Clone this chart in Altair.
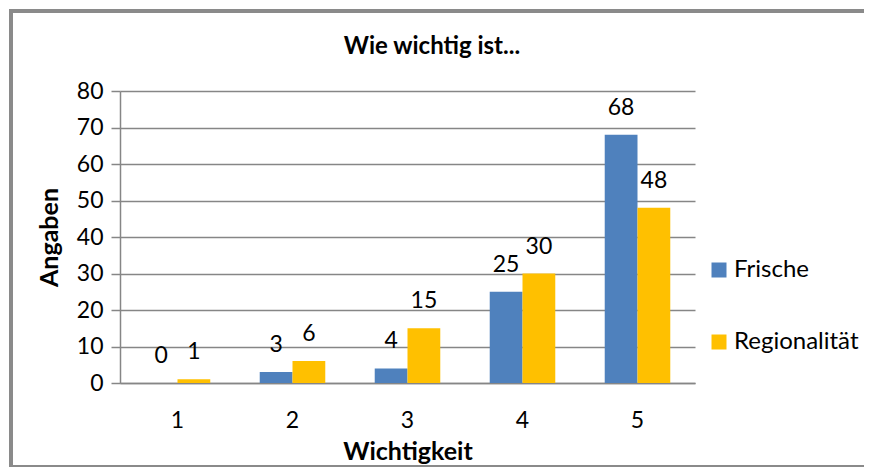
import altair as alt
import pandas as pd

categories = ["1", "2", "3", "4", "5"]
frische = [0, 3, 4, 25, 68]
regionalitaet = [1, 6, 15, 30, 48]
series = ["Frische", "Regionalität"]
colors = ["#4F81BD", "#FFC000"]
title_text = ["Wie wichtig ist..."]

rows = []
for c, f, r in zip(categories, frische, regionalitaet):
    rows.append({"Wichtigkeit": c, "Serie": series[0], "Angaben": f})
    rows.append({"Wichtigkeit": c, "Serie": series[1], "Angaben": r})
df = pd.DataFrame(rows)

FONT = "Lato"
W, H = 575, 292

x = alt.X("Wichtigkeit:N", sort=categories,
          scale=alt.Scale(paddingInner=0.43, paddingOuter=0.215),
          axis=alt.Axis(title="Wichtigkeit", labelAngle=0, ticks=False,
                        labelPadding=26, titlePadding=7, domainColor="#868686",
                        domainWidth=1.5))
y = alt.Y("Angaben:Q", scale=alt.Scale(domain=[0, 80]),
          axis=alt.Axis(title="Angaben", values=list(range(0, 81, 10)),
                        tickSize=9, tickColor="#868686", tickWidth=1.5,
                        gridColor="#868686", gridWidth=1.5,
                        domainColor="#868686", domainWidth=1.5,
                        labelPadding=8, titlePadding=14))
xo = alt.XOffset("Serie:N", sort=series)

base = alt.Chart(df)

bars = base.mark_bar().encode(
    x=x, y=y, xOffset=xo,
    color=alt.Color("Serie:N", sort=series,
                    scale=alt.Scale(domain=series, range=colors),
                    legend=alt.Legend(title=None, orient="none", legendX=587, legendY=167,
                                      symbolType="square", symbolSize=225,
                                      symbolStrokeWidth=0, labelFontSize=24,
                                      labelFont=FONT, labelColor="#000000",
                                      rowPadding=48, labelOffset=3,
                                      labelLimit=400)),
)

labels = base.mark_text(dy=-27, fontSize=23, font=FONT, color="#000000").encode(
    x=x, y=y, xOffset=xo, text="Angaben:Q",
)

frame = alt.Chart(pd.DataFrame({"a": [0]})).mark_rect(
    fill=None, stroke="#8a8a8a", strokeWidth=4, clip=False
).encode(
    x=alt.value(-109), x2=alt.value(746), y=alt.value(-80), y2=alt.value(376)
)

title = alt.Chart(pd.DataFrame({"t": title_text})).mark_text(
    font=FONT, fontSize=24, fontWeight="bold", color="#000000",
    baseline="middle", align="center", clip=False
).encode(x=alt.value(312), y=alt.value(-44), text="t:N")

chart = alt.layer(frame, bars, labels, title).properties(
    width=W, height=H,
    autosize=alt.AutoSizeParams(type="none"),
    padding={"left": 112, "top": 83, "right": 169, "bottom": 84},
).configure_axis(
    labelFont=FONT, labelFontSize=23, labelColor="#000000",
    titleFont=FONT, titleFontSize=25, titleFontWeight="bold", titleColor="#000000",
).configure_view(stroke=None)

chart.save("out.html", embed_options={"renderer": "svg", "actions": False})
